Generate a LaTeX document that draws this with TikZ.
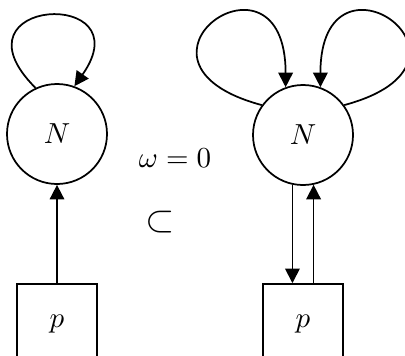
\documentclass[tikz,border=0pt]{standalone}
\usepackage{amsmath}
\usepackage{amssymb}
\usetikzlibrary{arrows.meta}

\tikzset{
  state/.style={draw, semithick, circle, minimum size=34.5pt, inner sep=0pt},
  pbox/.style={draw, semithick, rectangle, minimum width=27.6pt, minimum height=27.6pt, inner sep=0pt},
  arr/.style={semithick, -{Triangle[length=5pt,width=5pt]}},
}

\begin{document}
\begin{tikzpicture}[x=0.345pt, y=0.345pt]
\clip (0,0) rectangle (405,355);
\useasboundingbox (0,0) rectangle (405,355);

% left part
\node[state] (N1) at (57,221) {$N$};
\node[pbox] (P1) at (57,31) {$p$};
\draw[arr] (N1.115) .. controls +(135:44pt) and +(55:42pt) .. (N1.70);
\draw[arr] (P1.north) -- (N1.south);

% middle
\node (om) at (175,197) {$\omega = 0$};
\node[scale=1.3] (sub) at (160,133) {$\subset$};

% right part
\node[state] (N2) at (303,220) {$N$};
\node[pbox] (P2) at (303,31) {$p$};
\draw[arr] (N2.258) -- (N2.258 |- P2.north);
\draw[arr] (N2.282 |- P2.north) -- (N2.282);
\draw[arr] (N2.144) .. controls +(165:57pt) and +(90:53pt) .. (N2.110);
\draw[arr] (N2.36) .. controls +(15:57pt) and +(90:53pt) .. (N2.70);
\end{tikzpicture}
\end{document}
